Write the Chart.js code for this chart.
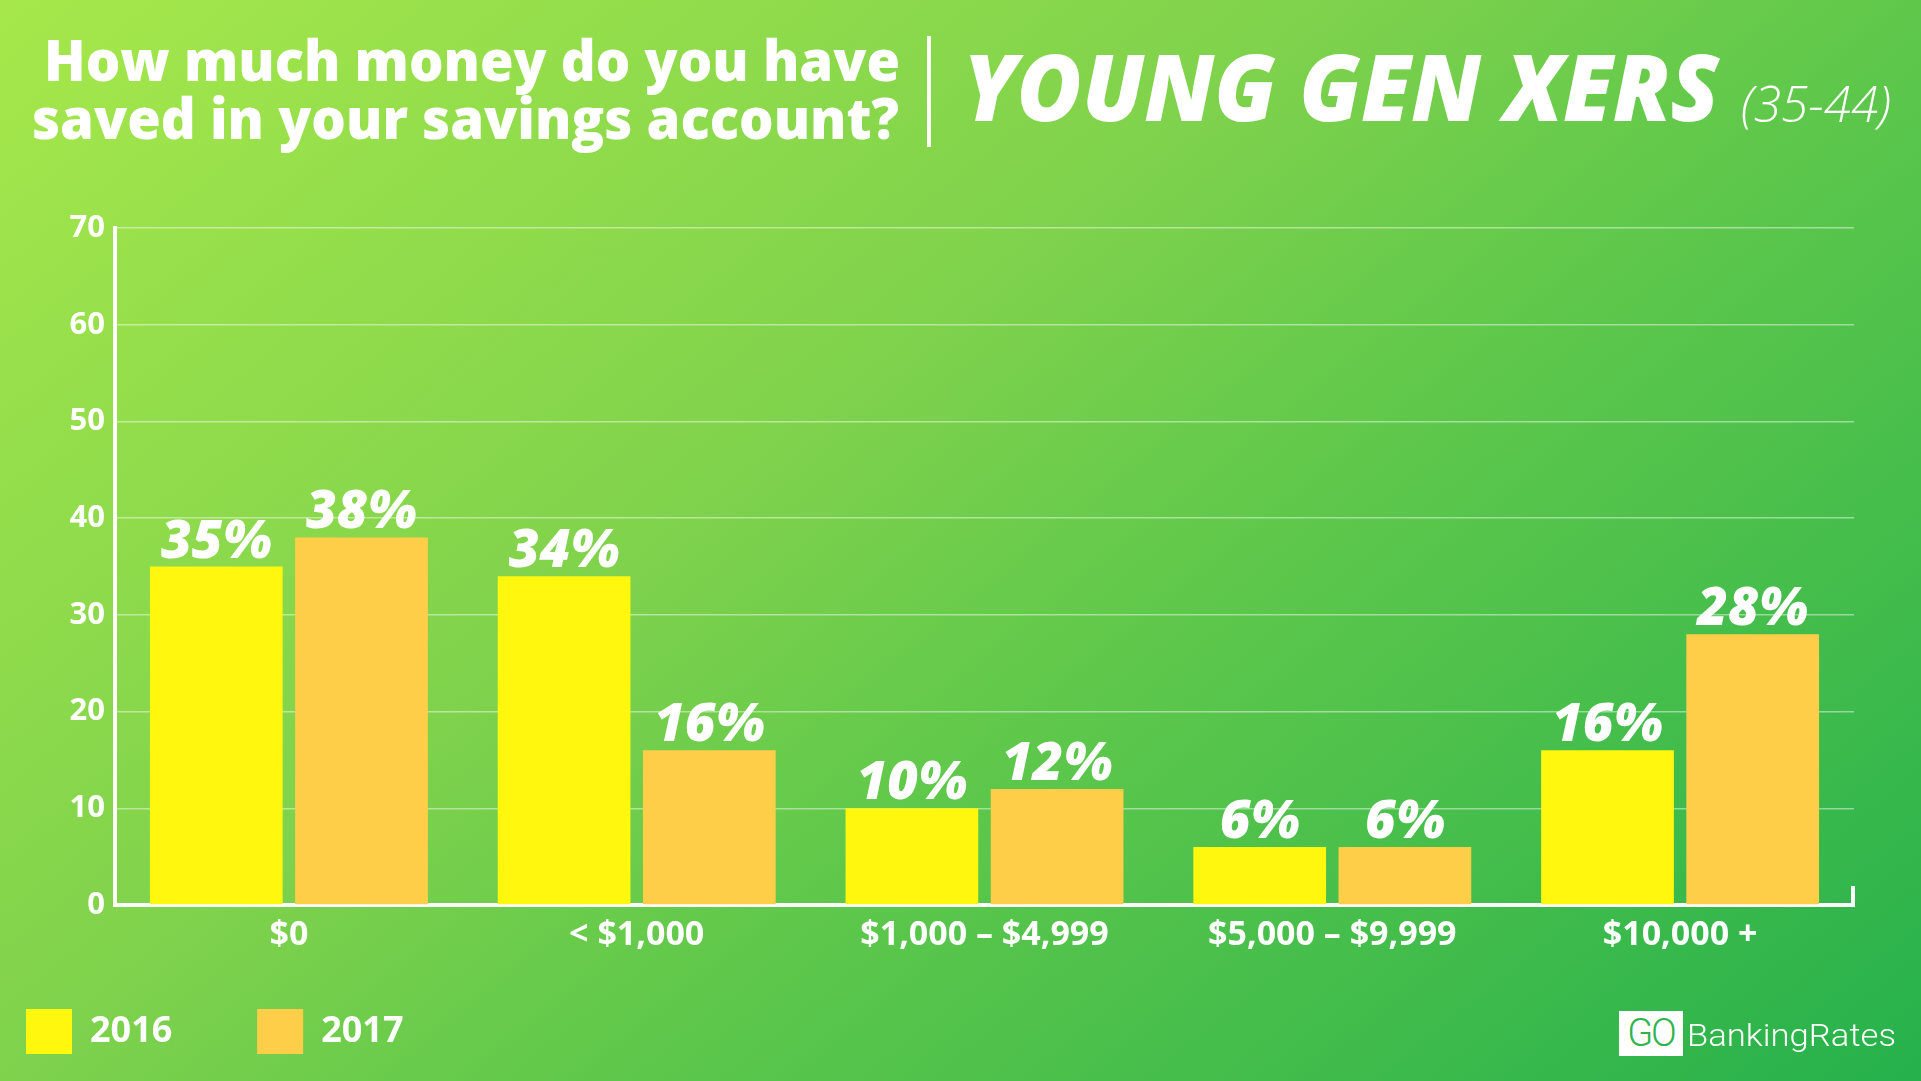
<!DOCTYPE html>
<html>
<head>
<meta charset="utf-8">
<script src="https://cdn.jsdelivr.net/npm/chart.js@4.4.1/dist/chart.umd.min.js"></script>
<style>
  html, body { margin: 0; padding: 0; }
  body {
    width: 1921px; height: 1081px; overflow: hidden; position: relative;
    background: linear-gradient(141deg, #a6e84b 0%, #7fd24c 41%, #5fc84b 59%, #26b14c 100%);
    font-family: 'Open Sans', sans-serif; color: #fff;
  }
  #wrap { position: absolute; left: 0; top: 0; width: 1921px; height: 1081px; }
  .t { position: absolute; white-space: nowrap; line-height: 1; transform-origin: 0 0; }
  #divider { position: absolute; left: 927px; top: 36px; width: 4px; height: 111px; background: #fff; }
  #goBox { position: absolute; left: 1619px; top: 1011px; width: 64px; height: 45px; background: #fff;
    color: #2fb44b; font-family: Roboto, sans-serif; font-weight: 300; font-size: 38px; line-height: 45px; text-align: center; letter-spacing: -2px; }
</style>
</head>
<body>
<div id="wrap"><canvas id="savingsChart"></canvas></div>

<div class="t fit" data-x="44" data-w="856" style="top:31px; font-size:56px; font-weight:800;">How much money do you have</div>
<div class="t fit" data-x="32" data-w="867" style="top:89px; font-size:56px; font-weight:800;">saved in your savings account?</div>
<div id="divider"></div>
<div class="t fit" data-x="963" data-w="756" style="top:40px; font-size:92px; font-weight:800; font-style:italic;">YOUNG GEN XERS</div>
<div class="t fit" data-x="1741" data-w="150" style="top:79px; font-size:49px; font-weight:300; font-style:italic;">(35-44)</div>

<div id="goBox">GO</div>
<div class="t fit" data-x="1687" data-w="209" style="top:1020px; font-family:Roboto, sans-serif; font-size:31px; font-weight:300;">BankingRates</div>

<script>
// veriler
const categories = ['$0', '< $1,000', '$1,000 – $4,999', '$5,000 – $9,999', '$10,000 +'];
const values2016 = [35, 34, 10, 6, 16];
const values2017 = [38, 16, 12, 6, 28];
const seriesNames = ['2016', '2017'];
const yMax = 70;
const yStep = 10;

// başlık yazılarını genişliğe sığdır
function fitTexts() {
  document.querySelectorAll('.fit').forEach(function(el) {
    el.style.left = el.getAttribute('data-x') + 'px';
    var w = el.getBoundingClientRect().width;
    var target = parseFloat(el.getAttribute('data-w'));
    el.style.transform = 'scaleX(' + (target / w) + ')';
  });
}

// legend aralığı için etiketi boşlukla doldur (en yakın genişlik)
function padLabel(text, target, font) {
  var c = document.createElement('canvas').getContext('2d');
  c.font = font;
  var s = text;
  while (c.measureText(s + ' ').width <= target) s += ' ';
  var under = target - c.measureText(s).width;
  var over = c.measureText(s + ' ').width - target;
  if (over < under) s += ' ';
  return s;
}

// çubuk üstü yüzde etiketleri
const barLabels = {
  id: 'barLabels',
  afterDatasetsDraw(chart) {
    const ctx = chart.ctx;
    ctx.save();
    ctx.fillStyle = '#fff';
    ctx.font = 'italic 800 53px "Open Sans"';
    ctx.textAlign = 'center';
    ctx.textBaseline = 'alphabetic';
    chart.data.datasets.forEach(function(ds, i) {
      chart.getDatasetMeta(i).data.forEach(function(bar, j) {
        ctx.fillText(ds.data[j] + '%', bar.x, bar.y - 9);
      });
    });
    ctx.restore();
  }
};

// x ekseninin sağ ucundaki küçük çentik
const axisEnd = {
  id: 'axisEnd',
  afterDraw(chart) {
    const a = chart.chartArea;
    const ctx = chart.ctx;
    ctx.save();
    ctx.strokeStyle = '#fff';
    ctx.lineWidth = 4;
    ctx.beginPath();
    ctx.moveTo(a.right - 1, a.bottom + 2);
    ctx.lineTo(a.right - 1, a.bottom - 19);
    ctx.stroke();
    ctx.restore();
  }
};

function initChart() {
  Chart.defaults.font.family = "'Open Sans', sans-serif";
  Chart.defaults.color = '#fff';

  const legendFont = 'bold 36px "Open Sans"';
  const labelFirst = padLabel(seriesNames[0], 257 - 26 - 46 - 18 - 10, legendFont);

  new Chart(document.getElementById('savingsChart'), {
    type: 'bar',
    data: {
      labels: categories,
      datasets: [{
        label: seriesNames[0],
        data: values2016,
        backgroundColor: '#fff70d',
        borderWidth: 0,
        categoryPercentage: 0.835,
        barPercentage: 0.914
      }, {
        label: seriesNames[1],
        data: values2017,
        backgroundColor: '#ffce48',
        borderWidth: 0,
        categoryPercentage: 0.835,
        barPercentage: 0.914
      }]
    },
    options: {
      responsive: true,
      maintainAspectRatio: false,
      animation: false,
      layout: { padding: { left: 16, right: 67, top: 228, bottom: 17 } },
      plugins: {
        tooltip: { enabled: false },
        legend: {
          position: 'bottom',
          align: 'start',
          labels: {
            boxWidth: 46,
            boxHeight: 45,
            padding: 10,
            color: '#fff',
            font: { size: 36, weight: 'bold' },
            generateLabels: function(chart) {
              const items = Chart.defaults.plugins.legend.labels.generateLabels(chart);
              items[0].text = labelFirst;
              return items;
            }
          }
        }
      },
      scales: {
        x: {
          grid: { display: false },
          border: { display: true, color: '#fff', width: 4 },
          ticks: { color: '#fff', font: { size: 34, weight: 'bold' }, padding: 2, maxRotation: 0, autoSkip: false },
          afterFit: function(axis) { axis.height = 94; }
        },
        y: {
          min: 0,
          max: yMax,
          grid: { color: 'rgba(255,255,255,0.45)', lineWidth: 1.5, drawTicks: false },
          border: { display: true, color: '#fff', width: 4 },
          ticks: { stepSize: yStep, color: '#fff', font: { size: 31, weight: 'bold' }, padding: 10 },
          afterFit: function(axis) { axis.width = 99; }
        }
      }
    },
    plugins: [barLabels, axisEnd]
  });
}

window.addEventListener('DOMContentLoaded', function() {
  document.fonts.ready.then(function() {
    fitTexts();
    initChart();
  });
});
</script>
</body>
</html>
